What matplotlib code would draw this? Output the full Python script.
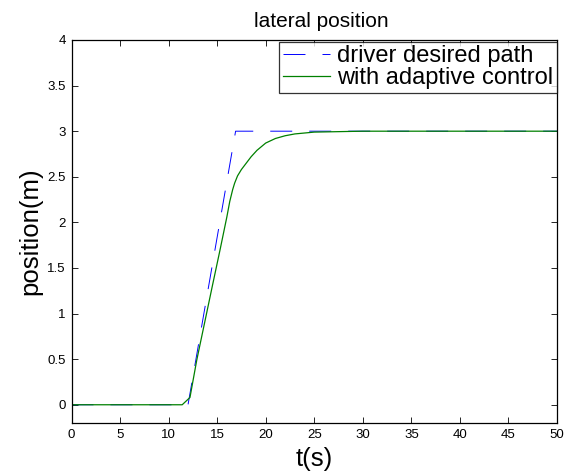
import numpy as np
import matplotlib.pyplot as plt

plt.rcParams['font.family'] = ['Liberation Sans', 'DejaVu Sans']

# driver desired path
t_desired = [0, 12.0, 16.9, 50]
y_desired = [0, 0, 3.0, 3.0]

# with adaptive control
t_adaptive = [0, 11.4, 12.2, 12.9, 14.5, 15.3, 16.0, 16.3, 16.6, 16.8, 17.1, 17.5,
              18.0, 18.5, 19.1, 20.0, 21.0, 22.0, 23.0, 25.0, 30.0, 50.0]
y_adaptive = [0, 0, 0.08, 0.49, 1.30, 1.70, 2.06, 2.23, 2.36, 2.43, 2.51, 2.58,
              2.65, 2.72, 2.79, 2.87, 2.92, 2.95, 2.97, 2.99, 3.0, 3.0]

fig = plt.figure(figsize=(5.73, 4.72), dpi=100)
ax = fig.add_axes([71.5/573, 1 - 423/472, (557-71.5)/573, (423-40)/472])

ax.plot(t_desired, y_desired, color='blue', linestyle=(0, (22.6, 17.5)), linewidth=0.7,
        label='driver desired path')
ax.plot(t_adaptive, y_adaptive, color=(0, 0.5, 0), linewidth=0.9,
        label='with adaptive control')

ax.set_xlim(0, 50)
ax.set_ylim(-0.2, 4)
ax.set_xticks(np.arange(0, 51, 5))
ax.set_yticks([0, 0.5, 1, 1.5, 2, 2.5, 3, 3.5, 4])
ax.set_yticklabels(['0', '0.5', '1', '1.5', '2', '2.5', '3', '3.5', '4'])
ax.tick_params(direction='in', top=True, right=True, labelsize=9.5, length=4, width=0.6,
               pad=4)
for s in ax.spines.values():
    s.set_linewidth(0.9)

ax.set_title('lateral position', fontsize=15, pad=9.5, x=0.514)
ax.set_xlabel('t(s)', fontsize=18.5, labelpad=4.5)
ax.set_ylabel('position(m)', fontsize=18.5, labelpad=4)

leg = ax.legend(loc='upper right', bbox_to_anchor=(1.0, 0.995), fontsize=17,
                frameon=True, fancybox=False, edgecolor='black', borderaxespad=0,
                handlelength=2.0, handletextpad=0.3, borderpad=0.15, labelspacing=0.0)
leg.get_frame().set_linewidth(0.9)

fig.savefig('out.png', dpi=100)
